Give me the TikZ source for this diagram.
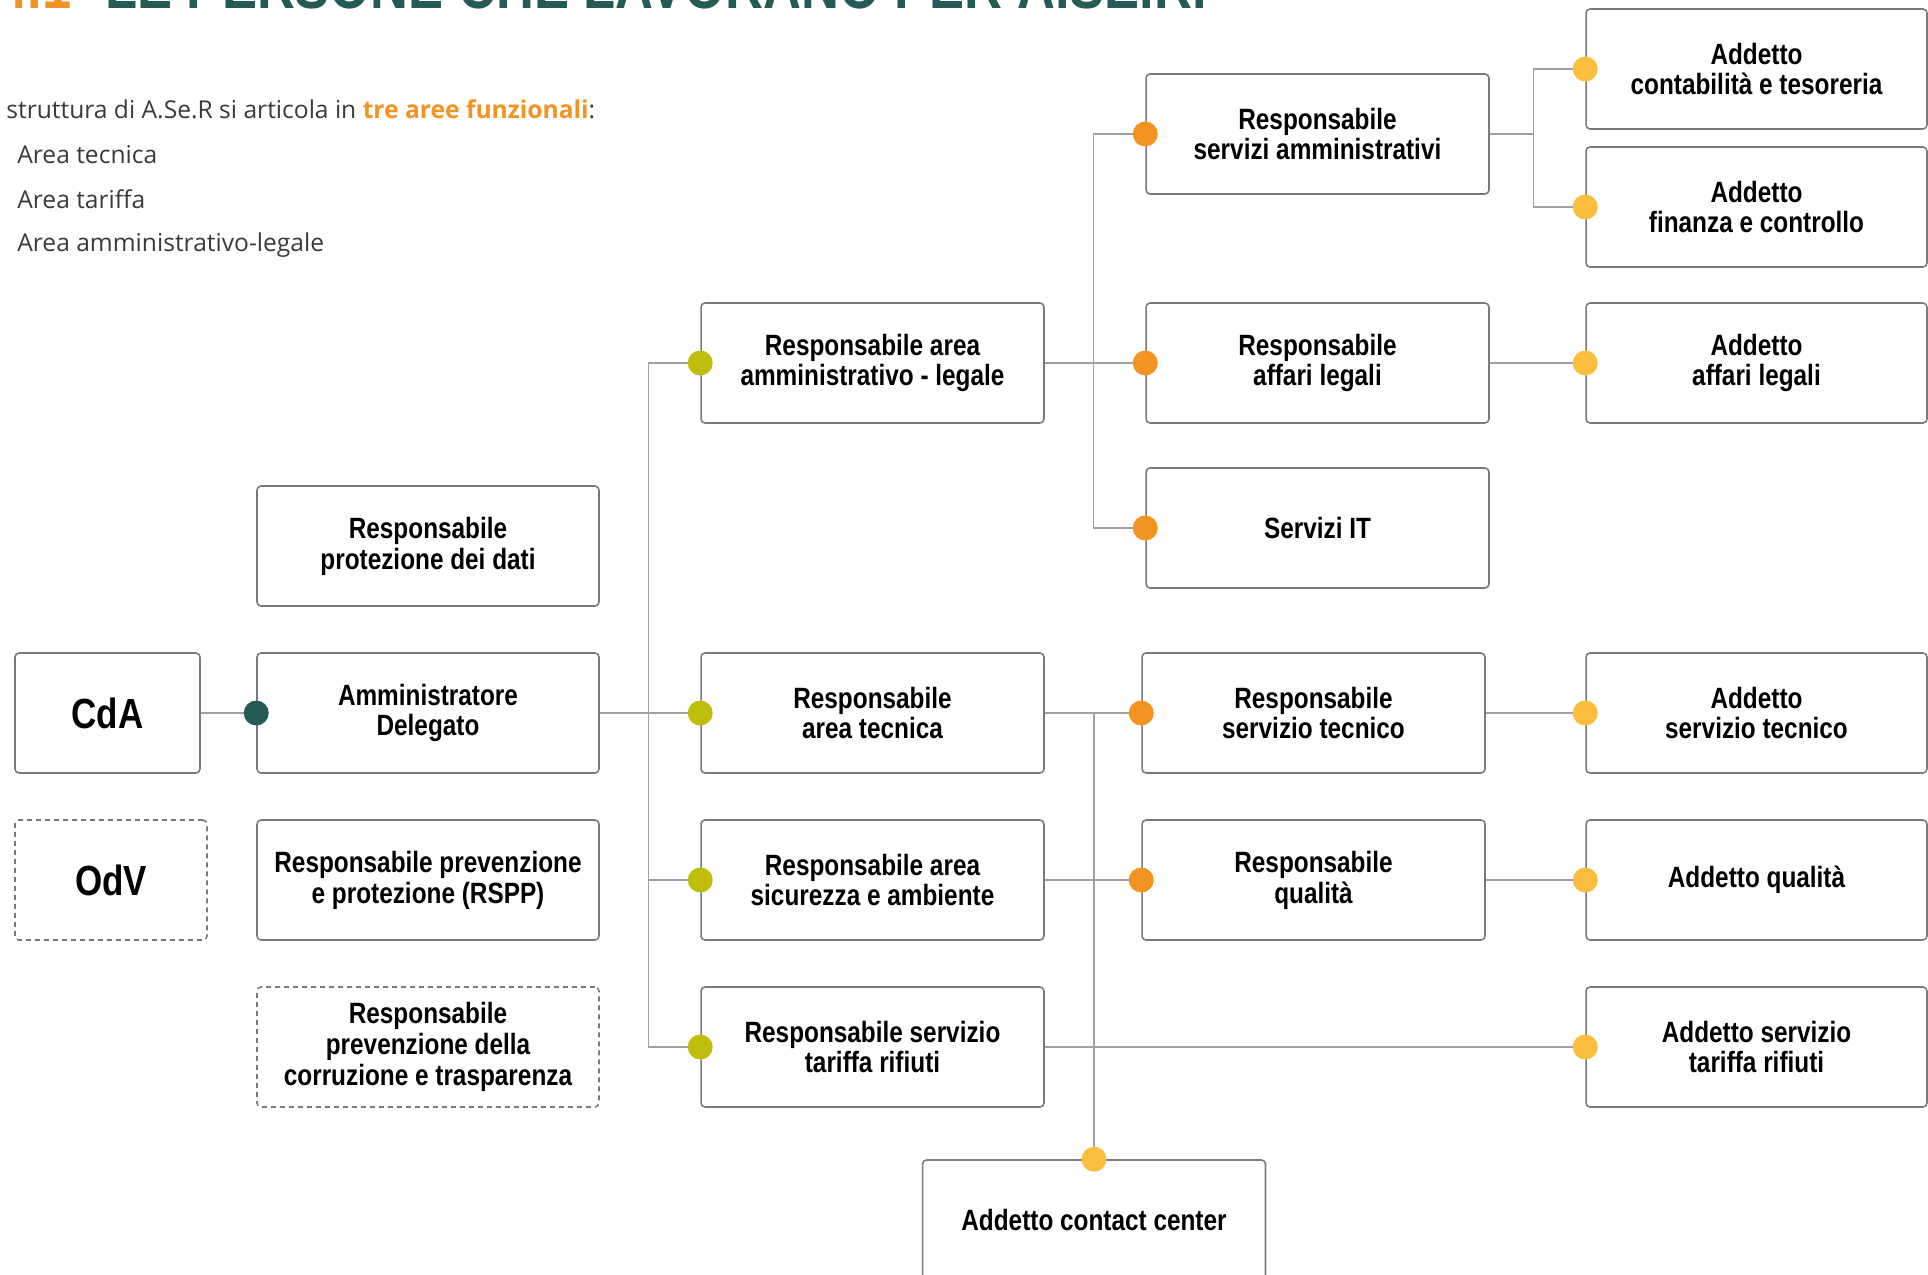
\documentclass[tikz,border=0pt]{standalone}
\usepackage{fontspec}
\usepackage{xcolor}
\usepackage{tikz}
\usetikzlibrary{positioning}

\newfontfamily\boxfont[FakeStretch=0.83]{Liberation Sans}
\newfontfamily\bodyfont{Open Sans}
\definecolor{aserteal}{HTML}{245B56}
\definecolor{aserolive}{HTML}{C0BE0C}
\definecolor{aserorange}{HTML}{F39321}
\definecolor{aseryellow}{HTML}{FBBE3F}
\definecolor{boxgray}{HTML}{7A7A7A}
\definecolor{linegray}{HTML}{A0A0A0}
\definecolor{bodygray}{HTML}{3A3A3A}

\begin{document}
\begin{tikzpicture}[x=0.02cm, y=-0.02cm,
  role/.style={draw=boxgray, line width=0.9pt, rounded corners=0.08cm, fill=white, minimum width=6.86cm, minimum height=2.4cm, inner sep=0pt, align=center, font=\boxfont\bfseries\fontsize{16.7}{17.6}\selectfont},
  ext/.style={dashed, dash pattern=on 0.1cm off 0.08cm},
  board/.style={role, minimum width=3.7cm, font=\boxfont\bfseries\fontsize{24}{24}\selectfont},
  link/.style={draw=linegray, line width=0.7pt},
  dot/.style={circle, inner sep=0pt, minimum size=0.5cm},
  intro/.style={anchor=west, inner sep=0pt, text=bodygray, font=\bodyfont\fontsize{14}{16}\selectfont}
]
  \clip (0,0) rectangle (1928,1275);

  % Title (cut at the top)
  \node[anchor=base east, inner sep=0pt, text=aserorange, font=\boxfont\bfseries\fontsize{36}{36}\selectfont] (titlenum) at (72,8) {4.1};
  \node[anchor=base west, inner sep=0pt, text=aserteal, font=\boxfont\bfseries\fontsize{36}{36}\selectfont] (title) at (105,8) {LE PERSONE CHE LAVORANO PER A.SE.R.};

  % Intro text
  \node[intro] (introline) at (6,109) {struttura di A.Se.R si articola in \textbf{\color{aserorange}tre aree funzionali}:};
  \node[intro] (areatec) at (17,155) {Area tecnica};
  \node[intro] (areatar) at (17,199) {Area tariffa};
  \node[intro] (areaamm) at (17,245) {Area amministrativo-legale};

  % Governance
  \node[board] (cda) at (107.5,713) {CdA};
  \node[board, ext, minimum width=3.84cm] (odv) at (111,880) {OdV};
  \node[role, minimum width=6.84cm] (rpd) at (428,546) {Responsabile\\protezione dei dati};
  \node[role, minimum width=6.84cm] (ad) at (428,713) {Amministratore\\Delegato};
  \node[role, minimum width=6.84cm] (rspp) at (428,880) {Responsabile prevenzione\\e protezione (RSPP)};
  \node[role, ext, minimum width=6.84cm] (rpct) at (428,1047) {Responsabile\\prevenzione della\\corruzione e trasparenza};

  % Area heads
  \node[role] (ral) at (872.5,363) {Responsabile area\\amministrativo - legale};
  \node[role] (rat) at (872.5,713) {Responsabile\\area tecnica};
  \node[role] (rsa) at (872.5,880) {Responsabile area\\sicurezza e ambiente};
  \node[role] (rtr) at (872.5,1047) {Responsabile servizio\\tariffa rifiuti};

  % Service heads
  \node[role] (rsam) at (1317.5,134) {Responsabile\\servizi amministrativi};
  \node[role] (rafl) at (1317.5,363) {Responsabile\\affari legali};
  \node[role] (rit) at (1317.5,528) {Servizi IT};
  \node[role] (rst) at (1313.5,713) {Responsabile\\servizio tecnico};
  \node[role] (rq) at (1313.5,880) {Responsabile\\qualità};
  \node[role] (acc) at (1094,1220) {Addetto contact center};

  % Staff
  \node[role, minimum width=6.82cm] (act) at (1756.5,69) {Addetto\\contabilità e tesoreria};
  \node[role, minimum width=6.82cm] (afc) at (1756.5,207) {Addetto\\finanza e controllo};
  \node[role, minimum width=6.82cm] (aal) at (1756.5,363) {Addetto\\affari legali};
  \node[role, minimum width=6.82cm] (ast) at (1756.5,713) {Addetto\\servizio tecnico};
  \node[role, minimum width=6.82cm] (aq) at (1756.5,880) {Addetto qualità};
  \node[role, minimum width=6.82cm] (atr) at (1756.5,1047) {Addetto servizio\\tariffa rifiuti};

  % Connectors
  \draw[link] (cda) -- (ad);
  \draw[link] (ad) -- (rat);
  \draw[link] (ral.west) -- ++(-52,0) |- (rtr.west);
  \draw[link] (rsa.west) -- ++(-52,0);
  \draw[link] (ral) -- (rafl);
  \draw[link] (rsam.west) -- ++(-52,0) |- (rit.west);
  \draw[link] (rsam.east) -- ++(44,0);
  \draw[link] (act.west) -- ++(-52,0) |- (afc.west);
  \draw[link] (rafl) -- (aal);
  \draw[link] (rat) -- (rst);
  \draw[link] (rsa) -- (rq);
  \draw[link] (rtr) -- (atr);
  \draw[link] (rst) -- (ast);
  \draw[link] (rq) -- (aq);
  \draw[link] (acc.north) -- (acc.north |- rat.east);

  % Dots
  \node[dot, fill=aserteal] (dad) at (ad.west) {};
  \foreach \n in {ral, rat, rsa, rtr}
    \node[dot, fill=aserolive] (d\n) at (\n.west) {};
  \foreach \n in {rsam, rafl, rit, rst, rq}
    \node[dot, fill=aserorange] (d\n) at (\n.west) {};
  \foreach \n in {act, afc, aal, ast, aq, atr}
    \node[dot, fill=aseryellow] (d\n) at (\n.west) {};
  \node[dot, fill=aseryellow] (dacc) at (acc.north) {};
\end{tikzpicture}
\end{document}
